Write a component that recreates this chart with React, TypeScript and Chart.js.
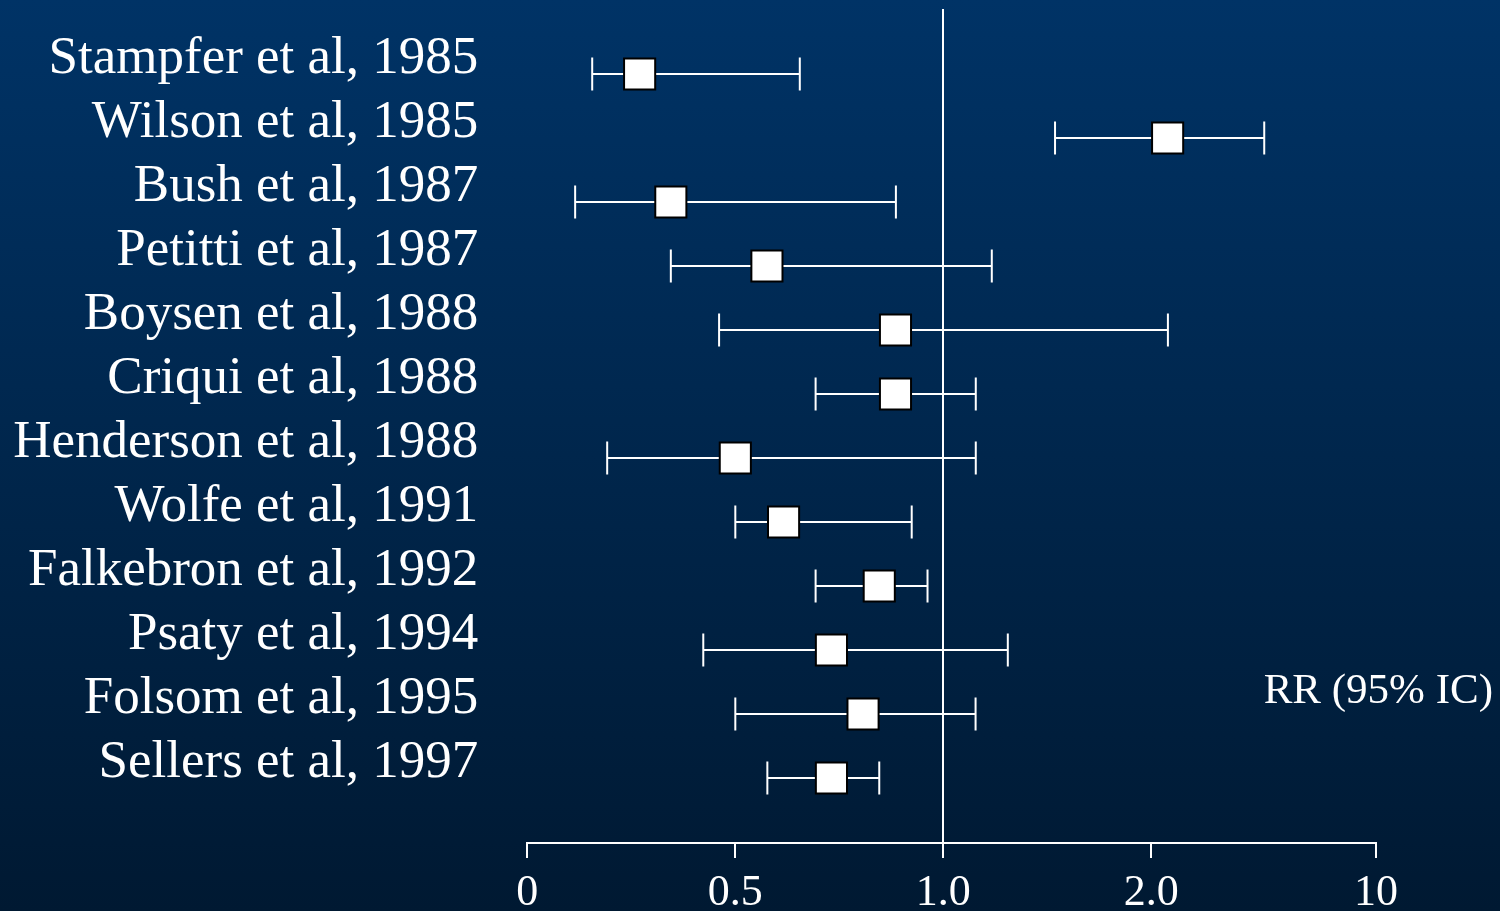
import React, { useEffect, useRef } from "react";
import { Chart, registerables } from "chart.js";

Chart.register(...registerables);

const STUDIES = [
  "Stampfer et al, 1985",
  "Wilson et al, 1985",
  "Bush et al, 1987",
  "Petitti et al, 1987",
  "Boysen et al, 1988",
  "Criqui et al, 1988",
  "Henderson et al, 1988",
  "Wolfe et al, 1991",
  "Falkebron et al, 1992",
  "Psaty et al, 1994",
  "Folsom et al, 1995",
  "Sellers et al, 1997",
];
const RR = [0.27, 2.58, 0.345, 0.576, 0.885, 0.885, 0.5, 0.616, 0.846, 0.731, 0.807, 0.731];
const CI_LOW = [0.156, 1.537, 0.115, 0.345, 0.461, 0.693, 0.192, 0.5, 0.693, 0.423, 0.5, 0.577];
const CI_HIGH = [0.655, 6.02, 0.886, 1.233, 2.59, 1.156, 1.156, 0.924, 0.962, 1.31, 1.155, 0.846];

const TICK_VALUES = [0, 0.5, 1, 2, 10];
const TICK_LABELS = ["0", "0.5", "1.0", "2.0", "10"];
// axis slot of each break value (the printed axis is piecewise, not linear)
const TICK_SLOTS = [0, 1, 2, 3, 4.08];

const AXIS_TITLE = "RR (95% IC)";
const FONT = "'Liberation Serif', 'Times New Roman', serif";

function posOf(v: number): number {
  for (let i = 0; i < TICK_VALUES.length - 1; i++) {
    const a = TICK_VALUES[i];
    const b = TICK_VALUES[i + 1];
    if (v <= b || i === TICK_VALUES.length - 2) {
      return TICK_SLOTS[i] + ((v - a) / (b - a)) * (TICK_SLOTS[i + 1] - TICK_SLOTS[i]);
    }
  }
  return 0;
}

const backgroundPlugin = {
  id: "bgGradient",
  beforeDraw(chart: any) {
    const { ctx, width, height } = chart;
    const g = ctx.createLinearGradient(0, 0, 0, height);
    g.addColorStop(0, "rgb(0,51,102)");
    g.addColorStop(1, "rgb(0,25,50)");
    ctx.save();
    ctx.fillStyle = g;
    ctx.fillRect(0, 0, width, height);
    ctx.restore();
  },
};

const titlePlugin = {
  id: "rrTitle",
  afterDraw(chart: any) {
    const { ctx } = chart;
    const yScale = chart.scales.y;
    ctx.save();
    ctx.fillStyle = "#ffffff";
    ctx.font = `43px ${FONT}`;
    ctx.textAlign = "right";
    ctx.textBaseline = "middle";
    ctx.fillText(AXIS_TITLE, chart.width - 7, yScale.getPixelForValue(10) - 22);
    ctx.restore();
  },
};

export default function App() {
  const canvasRef = useRef<HTMLCanvasElement | null>(null);

  useEffect(() => {
    document.body.style.margin = "0";
    const canvas = canvasRef.current;
    if (!canvas) return;

    const squares = {
      type: "scatter" as const,
      label: "RR",
      data: STUDIES.map((_, i) => ({ x: posOf(RR[i]), y: i })),
      pointStyle: "rect",
      pointRadius: 22,
      pointBackgroundColor: "#ffffff",
      pointBorderColor: "#000000",
      pointBorderWidth: 2,
      order: 0,
    };

    const intervals = STUDIES.map((name, i) => ({
      type: "line" as const,
      label: name,
      data: [
        { x: posOf(CI_LOW[i]), y: i },
        { x: posOf(CI_HIGH[i]), y: i },
      ],
      showLine: true,
      borderColor: "#ffffff",
      borderWidth: 2,
      pointStyle: "line",
      pointRotation: 90,
      pointRadius: 16.5,
      pointBorderColor: "#ffffff",
      pointBorderWidth: 2,
      order: 1,
    }));

    const chart = new Chart(canvas, {
      type: "scatter",
      data: { datasets: [squares as any, ...(intervals as any[])] },
      options: {
        animation: false,
        responsive: true,
        maintainAspectRatio: false,
        layout: { autoPadding: false, padding: { top: 9, right: 124, left: 0, bottom: 0 } },
        plugins: {
          legend: { display: false },
          tooltip: { enabled: false },
        },
        scales: {
          x: {
            type: "linear",
            min: 0,
            max: posOf(10),
            afterBuildTicks(scale: any) {
              scale.ticks = TICK_VALUES.map((v) => ({ value: posOf(v) }));
            },
            afterFit(scale: any) {
              scale.height = 68;
              scale.paddingLeft = 0;
              scale.paddingRight = 0;
              scale.paddingTop = 0;
              scale.paddingBottom = 0;
            },
            ticks: {
              autoSkip: false,
              maxRotation: 0,
              color: "#ffffff",
              padding: 9,
              font: { family: FONT, size: 44 },
              callback: (_v: any, i: number) => TICK_LABELS[i],
            },
            grid: {
              drawOnChartArea: true,
              color: (ctx: any) =>
                ctx.tick && Math.abs(ctx.tick.value - posOf(1)) < 1e-6 ? "#ffffff" : "rgba(0,0,0,0)",
              lineWidth: 2,
              drawTicks: true,
              tickLength: 15,
              tickColor: "#ffffff",
              tickWidth: 2,
            },
            border: { display: true, color: "#ffffff", width: 2 },
          },
          y: {
            type: "linear",
            reverse: true,
            min: -1.0156,
            max: 12.0156,
            afterBuildTicks(scale: any) {
              scale.ticks = STUDIES.map((_, i) => ({ value: i }));
            },
            afterFit(scale: any) {
              scale.width = 527.3;
              scale.paddingTop = 0;
              scale.paddingBottom = 0;
              scale.paddingLeft = 0;
              scale.paddingRight = 0;
            },
            ticks: {
              autoSkip: false,
              color: "#ffffff",
              padding: 49,
              labelOffset: -15,
              font: { family: FONT, size: 53 },
              callback: (_v: any, i: number) => STUDIES[i],
            },
            grid: { display: false, drawTicks: false, tickLength: 0 },
            border: { display: false },
          },
        },
      } as any,
      plugins: [backgroundPlugin, titlePlugin],
    });

    return () => chart.destroy();
  }, []);

  return (
    <div style={{ position: "relative", width: 1500, height: 911 }}>
      <canvas ref={canvasRef} />
    </div>
  );
}
